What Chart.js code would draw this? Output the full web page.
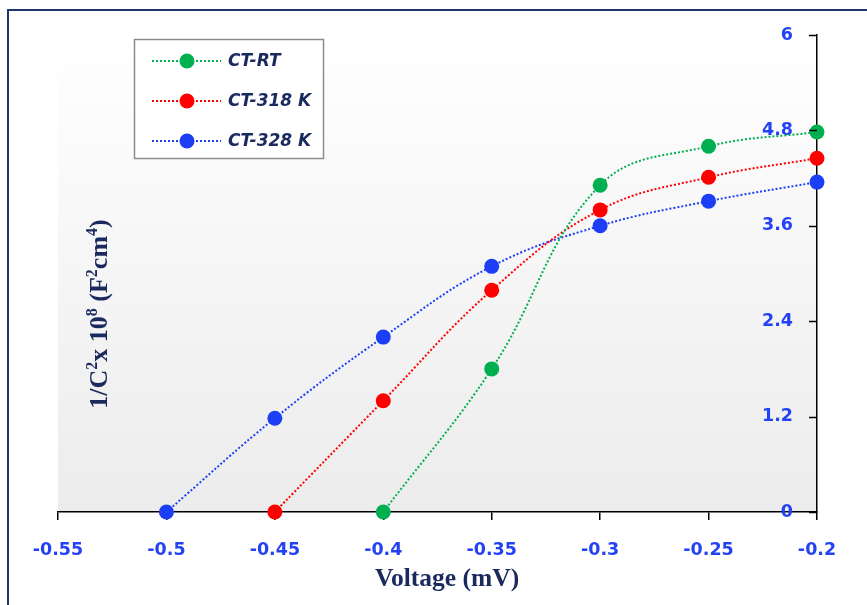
<!DOCTYPE html>
<html>
<head>
<meta charset="utf-8">
<script src="https://cdn.jsdelivr.net/npm/chart.js@4/dist/chart.umd.min.js"></script>
<style>
  html, body { margin: 0; padding: 0; background: #fff; }
  #wrap { position: relative; width: 867px; height: 605px; }
</style>
</head>
<body>
<div id="wrap"><canvas id="c" width="867" height="605"></canvas></div>
<script>
// Mott-Schottky data: 1/C^2 (x10^8) against applied voltage
const voltage = [-0.5, -0.45, -0.4, -0.35, -0.3, -0.25, -0.2];
const ctRT    = [null, null, 0, 1.80, 4.11, 4.60, 4.78];
const ct318   = [null, 0, 1.40, 2.79, 3.80, 4.21, 4.45];
const ct328   = [0, 1.18, 2.20, 3.09, 3.60, 3.91, 4.15];

const seriesNames  = ['CT-RT', 'CT-318 K', 'CT-328 K'];
const seriesValues = [ctRT, ct318, ct328];
const seriesColors = ['#00b050', '#ff0000', '#1c3ef5'];

const xTicks = [-0.55, -0.5, -0.45, -0.4, -0.35, -0.3, -0.25, -0.2];
const yTicks = [0, 1.2, 2.4, 3.6, 4.8, 6];

const xTitle = 'Voltage (mV)';
// [text, isSuperscript]
const yTitleParts = [['1/C', 0], ['2', 1], ['x 10', 0], ['8', 1], [' (F', 0], ['2', 1], ['cm', 0], ['4', 1], [')', 0]];

const navy = '#1b2a5e';
const tickBlue = '#2342f5';
const tickFont = { family: '"DejaVu Sans", sans-serif', size: 17.5, weight: 'bold' };

function toPoints(vals) {
  return voltage.map((v, i) => ({ x: v, y: vals[i] })).filter(p => p.y !== null);
}

const datasets = seriesNames.map((name, i) => ({
  label: name,
  data: toPoints(seriesValues[i]),
  borderColor: seriesColors[i],
  backgroundColor: seriesColors[i],
  borderWidth: 2,
  borderDash: [2, 2],
  tension: 0.4,
  pointRadius: 7.5,
  pointHoverRadius: 7.5,
  pointBorderWidth: 0,
  clip: false
}));

const decorations = {
  id: 'decorations',
  beforeDraw(chart) {
    const { ctx, chartArea: a } = chart;
    ctx.save();
    // plot area shading
    const g = ctx.createLinearGradient(0, a.top, 0, a.bottom);
    g.addColorStop(0, '#ffffff');
    g.addColorStop(1, '#ececec');
    ctx.fillStyle = g;
    ctx.fillRect(a.left, a.top, a.right - a.left, a.bottom - a.top);
    // outer frame
    ctx.strokeStyle = '#1f3470';
    ctx.lineWidth = 2;
    ctx.beginPath();
    ctx.moveTo(8, 605);
    ctx.lineTo(8, 10);
    ctx.lineTo(867, 10);
    ctx.stroke();
    ctx.restore();
  },
  afterDraw(chart) {
    const { ctx } = chart;
    ctx.save();
    // inward tick marks on the right-hand value axis
    const ys = chart.scales.y;
    ctx.strokeStyle = '#000';
    ctx.lineWidth = 1.5;
    ys.ticks.forEach(t => {
      const py = Math.round(ys.getPixelForValue(t.value)) + 0.5;
      ctx.beginPath();
      ctx.moveTo(ys.left - 8, py);
      ctx.lineTo(ys.left, py);
      ctx.stroke();
    });

    // x title
    ctx.fillStyle = navy;
    ctx.font = 'bold 25.5px "Liberation Serif", serif';
    ctx.textAlign = 'center';
    ctx.textBaseline = 'alphabetic';
    ctx.fillText(xTitle, 447, 586);

    // y title, rotated, with superscripts
    const big = 'bold 26px "Liberation Serif", serif';
    const small = 'bold 16px "Liberation Serif", serif';
    let total = 0;
    yTitleParts.forEach(([t, sup]) => { ctx.font = sup ? small : big; total += ctx.measureText(t).width; });
    ctx.translate(107, 314);
    ctx.rotate(-Math.PI / 2);
    ctx.textAlign = 'left';
    let x = -total / 2;
    yTitleParts.forEach(([t, sup]) => {
      ctx.font = sup ? small : big;
      ctx.fillText(t, x, sup ? -10 : 0);
      x += ctx.measureText(t).width;
    });
    ctx.setTransform(1, 0, 0, 1, 0, 0);

    // legend
    ctx.fillStyle = '#ffffff';
    ctx.fillRect(134, 39, 189, 119);
    ctx.strokeStyle = '#8c8c8c';
    ctx.lineWidth = 1.5;
    ctx.strokeRect(134.5, 39.5, 189, 119);
    const rows = [61, 101, 141];
    chart.data.datasets.forEach((ds, i) => {
      const y = rows[i];
      ctx.strokeStyle = ds.borderColor;
      ctx.lineWidth = 2;
      ctx.setLineDash([2, 2]);
      ctx.beginPath();
      ctx.moveTo(152, y);
      ctx.lineTo(221, y);
      ctx.stroke();
      ctx.setLineDash([]);
      ctx.fillStyle = ds.backgroundColor;
      ctx.beginPath();
      ctx.arc(187, y, 7.5, 0, Math.PI * 2);
      ctx.fill();
      ctx.fillStyle = navy;
      ctx.font = 'italic bold 17px "DejaVu Sans", sans-serif';
      ctx.textBaseline = 'middle';
      ctx.fillText(ds.label, 228, y + 1);
    });
    ctx.restore();
  }
};

new Chart(document.getElementById('c'), {
  type: 'line',
  data: { datasets },
  options: {
    responsive: false,
    devicePixelRatio: 1,
    animation: false,
    layout: { padding: { left: 58, right: 50, top: 35, bottom: 0 } },
    plugins: { legend: { display: false }, tooltip: { enabled: false } },
    scales: {
      x: {
        type: 'linear',
        min: -0.55,
        max: -0.2,
        afterBuildTicks: s => { s.ticks = xTicks.map(v => ({ value: v })); },
        afterFit: s => { s.height = 93; },
        border: { display: true, color: '#000', width: 1.5 },
        grid: { drawOnChartArea: false, drawTicks: true, tickLength: 8, color: '#000', lineWidth: 1.5 },
        ticks: {
          padding: 20,
          color: tickBlue,
          font: tickFont,
          maxRotation: 0,
          autoSkip: false,
          callback: v => String(Number(v.toFixed(2)))
        }
      },
      y: {
        type: 'linear',
        position: 'right',
        min: 0,
        max: 6,
        afterBuildTicks: s => { s.ticks = yTicks.map(v => ({ value: v })); },
        afterFit: s => { s.width = 0; },
        border: { display: true, color: '#000', width: 1.5 },
        grid: { drawOnChartArea: false, drawTicks: false },
        ticks: {
          mirror: true,
          padding: -24,
          color: tickBlue,
          font: tickFont,
          autoSkip: false,
          callback: v => String(v)
        }
      }
    }
  },
  plugins: [decorations]
});
</script>
</body>
</html>
